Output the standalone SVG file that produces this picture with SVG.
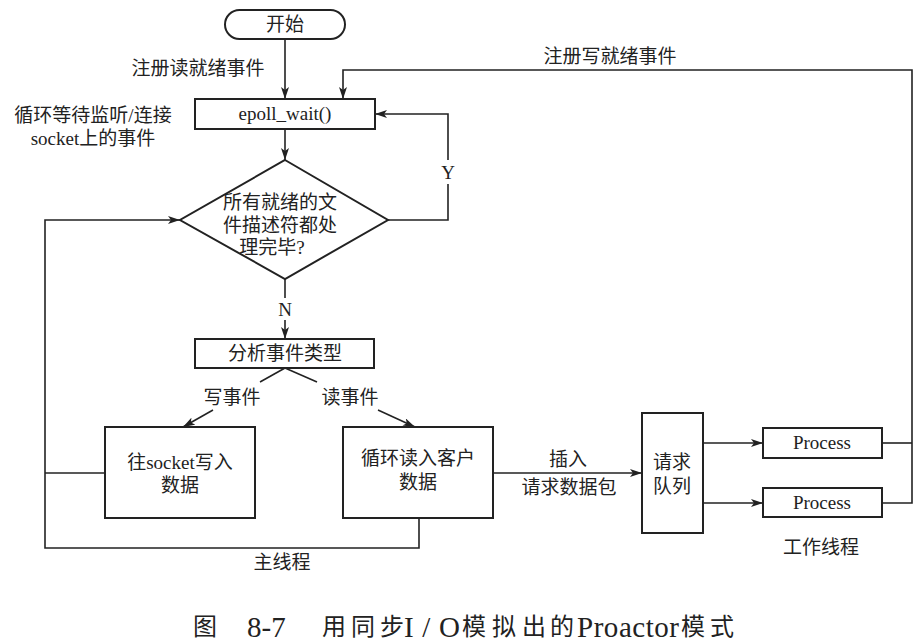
<svg xmlns="http://www.w3.org/2000/svg" width="922" height="644" viewBox="0 0 922 644">
<style>
text{font-family:"Liberation Serif","Noto Sans CJK SC",serif;font-size:19px;fill:#222;dominant-baseline:central;text-anchor:middle}
.box{fill:#fff;stroke:#222;stroke-width:2}
.ln{fill:none;stroke:#222;stroke-width:1.6}
.arr{marker-end:url(#ah)}
.cap{font-size:24px;text-anchor:start}
.capl{font-size:29px;text-anchor:start;dominant-baseline:alphabetic}
</style>
<defs>
<marker id="ah" viewBox="0 0 12 8" refX="12" refY="4" markerWidth="12" markerHeight="8" markerUnits="userSpaceOnUse" orient="auto">
<path d="M0,0 L12,4 L0,8 L3,4 Z" fill="#222"/>
</marker>
</defs>
<rect width="922" height="644" fill="#fff"/>
<g id="connectors">
<path class="ln arr" d="M285,39 V99"/>
<path class="ln arr" d="M285,129 V160"/>
<path class="ln" d="M882,443 H912"/>
<path class="ln arr" d="M882,503 H912 V70 H343 V99"/>
<path class="ln" d="M388,220 H448 V184"/>
<path class="ln arr" d="M448,160 V114 H375"/>
<path class="ln" d="M285,279 V298"/>
<path class="ln arr" d="M285,320 V339"/>
<path class="ln" d="M285,368 L260,382"/>
<path class="ln arr" d="M213,410 L183,427"/>
<path class="ln" d="M285,368 L317,382"/>
<path class="ln arr" d="M378,410 L415,427"/>
<path class="ln" d="M105,473 H45"/>
<path class="ln arr" d="M419,518 V548 H45 V220 H180"/>
<path class="ln arr" d="M493,473 H642"/>
<path class="ln arr" d="M703,443 H763"/>
<path class="ln arr" d="M703,503 H763"/>
<text x="198" y="68">注册读就绪事件</text>
<text x="610" y="56">注册写就绪事件</text>
<text x="448" y="172">Y</text>
<text x="285" y="309">N</text>
<text x="232" y="397">写事件</text>
<text x="350" y="397">读事件</text>
<text x="568" y="459">插入</text>
<text x="569" y="487">请求数据包</text>
<text x="282" y="562">主线程</text>
<text x="821" y="547">工作线程</text>
<text x="93" y="115">循环等待监听/连接</text>
<text x="93" y="138">socket上的事件</text>
</g>
<g id="start">
<rect class="box" x="225" y="10" width="120" height="29" rx="14.5"/>
<text x="285" y="24">开始</text>
</g>
<g id="epoll">
<rect class="box" x="195" y="99" width="180" height="30"/>
<text x="285" y="113">epoll_wait()</text>
</g>
<g id="decision">
<path class="box" d="M285,160 L388,220 L285,279 L180,220 Z"/>
<text x="280" y="202">所有就绪的文</text>
<text x="280" y="225">件描述符都处</text>
<text x="272" y="247">理完毕?</text>
</g>
<g id="analyze">
<rect class="box" x="195" y="339" width="179" height="29"/>
<text x="285" y="353">分析事件类型</text>
</g>
<g id="write">
<rect class="box" x="105" y="427" width="150" height="91"/>
<text x="180" y="462">往socket写入</text>
<text x="180" y="485">数据</text>
</g>
<g id="read">
<rect class="box" x="343" y="427" width="150" height="91"/>
<text x="418" y="458">循环读入客户</text>
<text x="418" y="482">数据</text>
</g>
<g id="queue">
<rect class="box" x="642" y="413" width="61" height="120"/>
<text x="672" y="462">请求</text>
<text x="672" y="486">队列</text>
</g>
<g id="process1">
<rect class="box" x="763" y="428" width="119" height="30"/>
<text x="822" y="442">Process</text>
</g>
<g id="process2">
<rect class="box" x="763" y="488" width="119" height="29"/>
<text x="822" y="502">Process</text>
</g>
<g id="caption">
<text class="cap" x="193" y="627">图</text>
<text class="capl" x="247" y="637">8-7</text>
<text class="cap" x="322 351 380" y="627">用同步</text>
<text class="capl" x="404" y="637" textLength="56" lengthAdjust="spacing">I/O</text>
<text class="cap" x="462 492 522 550" y="627">模拟出的</text>
<text class="capl" x="577" y="637" textLength="102" lengthAdjust="spacing">Proactor</text>
<text class="cap" x="681 710" y="627">模式</text>
</g>
</svg>
